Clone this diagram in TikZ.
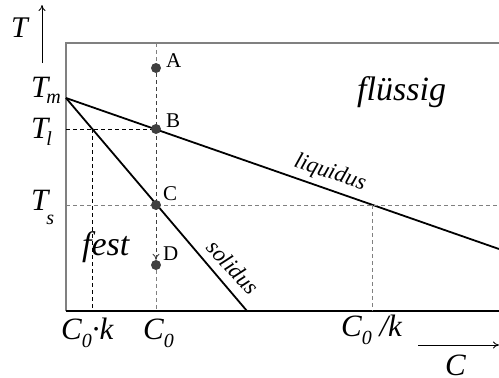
\documentclass[tikz,border=0pt]{standalone}
\usepackage{fontspec}
\setmainfont{Liberation Serif}
\usetikzlibrary{arrows.meta,positioning,backgrounds}
\definecolor{cframe}{RGB}{128,128,128}
\definecolor{cdot}{RGB}{64,64,64}
\newcommand{\fsz}[1]{\fontsize{#1}{#1}\selectfont}
\newcommand{\lowsub}[2]{\raisebox{-#1}{\fsz{20}#2}}

\begin{document}
\begin{tikzpicture}[x=1pt,y=-1pt,>={To[length=6pt,width=7pt]},
  curve/.style={line width=1.8pt},
  frame/.style={line width=1.1pt},
  guide/.style={dash pattern=on 4pt off 3pt,line width=0.9pt},
  pt/.style={circle,fill=cdot,inner sep=0pt,minimum size=10pt},
  ptlbl/.style={font=\fsz{21},inner sep=0pt,anchor=base west},
  axlbl/.style={font=\fsz{31}\itshape,inner sep=0pt,anchor=base west},
  region/.style={font=\fsz{34}\itshape,inner sep=0pt,anchor=base west},
  linelbl/.style={font=\fsz{23}\itshape,inner sep=0pt}]
\useasboundingbox (0,0) rectangle (499,378);
% frame and curves
\coordinate (top) at (66,43);
\coordinate (o) at (66,311);
\coordinate (tm) at (66,98);
\coordinate (liqend) at (499,249);
\coordinate (solend) at (247,311);
\draw[frame,cframe] (o) -- (top) -- (499,43);
\draw[frame] (o) -- (499,311);
\draw[curve] (tm) -- (liqend);
\draw[curve] (tm) -- (solend);
% guides
\draw[guide] (66,129) -- (156,129);
\draw[guide] (92,129) -- (92,311);
\draw[guide,cframe] (66,205) -- (499,205);
\draw[guide,cframe] (372,205) -- (372,311);
% points on C_0
\node (a) [pt] at (156,68) {};
\node (b) [pt] at (156,129) {};
\node (c) [pt] at (156,205) {};
\node (d) [pt] at (156,265) {};
\begin{scope}[on background layer]
\draw[guide,cframe] (156,43) -- (a);
\draw[guide,cdot,->] (a) -- (d);
\draw[guide,cframe] (d) -- (156,311);
\end{scope}
\node (la) [ptlbl] at (166,67) {A};
\node (lb) [ptlbl] at (166,127) {B};
\node (lc) [ptlbl] at (163,200) {C};
\node (ld) [ptlbl] at (163,260) {D};
% axes
\coordinate (tbot) at (42,63);
\coordinate (ttop) at (42,5);
\draw[->,line width=0.8pt] (tbot) -- (ttop);
\node (tlbl) [axlbl,font=\fsz{30}\itshape] at (11,37) {T};
\coordinate (cl) at (418,345);
\coordinate (cr) at (499,345);
\draw[->,line width=0.8pt] (cl) -- (cr);
\node (clbl) [axlbl] at (445,375) {C};
% level labels
\node (ltm) [axlbl] at (31,97) {T\kern-2pt\lowsub{6pt}{m}};
\node (ltl) [axlbl] at (31,138) {T\kern-2pt\lowsub{7pt}{l}};
\node (lts) [axlbl] at (31,210) {T\kern-2pt\lowsub{14pt}{s}};
\node (lck) [axlbl] at (61,339) {C\lowsub{8pt}{\itshape 0}·k};
\node (lc0) [axlbl] at (143,339) {C\lowsub{8pt}{\itshape 0}};
\node (lck2) [axlbl] at (341,336) {C\lowsub{8pt}{\itshape 0} /k};
% regions and curve names
\node (liq) [region] at (357,100) {flüssig};
\node (sol) [region] at (82,255) {fest};
\node (lliq) [linelbl,rotate=-19] at (330,173) {liquidus};
\node (lsol) [linelbl,rotate=-47] at (233,267) {solidus};
\end{tikzpicture}
\end{document}
